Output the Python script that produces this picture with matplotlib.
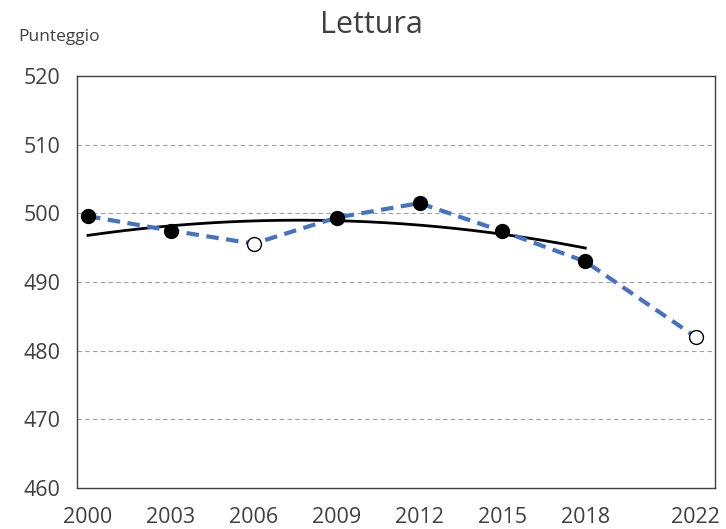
import numpy as np
import matplotlib.pyplot as plt

# dati PISA lettura
anni = [2000, 2003, 2006, 2009, 2012, 2015, 2018, 2022]
punteggi = [499.6, 497.5, 495.6, 499.4, 501.5, 497.4, 493.0, 482.0]
pieni = [True, True, False, True, True, True, True, False]

# linea di tendenza
anni_trend = [2000, 2003, 2006, 2009, 2012, 2015, 2018]
valori_trend = [496.9, 498.1, 498.8, 499.0, 498.4, 497.0, 494.9]

x_ticks = [2000, 2003, 2006, 2009, 2012, 2015, 2018, 2022]
y_ticks = [460, 470, 480, 490, 500, 510, 520]

plt.rcParams['font.family'] = ['Open Sans', 'DejaVu Sans']
grigio = '#404040'

fig = plt.figure(figsize=(7.26, 5.29), dpi=100)
ax = fig.add_axes([0.106, 0.0775, 0.879, 0.7785])

# griglia
for y in y_ticks[1:-1]:
    ax.axhline(y, color='#a0a0a0', lw=0.8, ls=(0, (4, 3)), zorder=0)

# tendenza quadratica
coef = np.polyfit(anni_trend, valori_trend, 2)
xs = np.linspace(anni_trend[0], anni_trend[-1], 200)
ax.plot(xs, np.polyval(coef, xs), color='black', lw=2, zorder=2)

# serie tratteggiata
ax.plot(anni, punteggi, color='#4472C4', lw=3, ls=(0, (3, 1.8)), zorder=3)
for a, p, f in zip(anni, punteggi, pieni):
    ax.plot(a, p, 'o', ms=10, mec='black', mew=1,
            mfc='black' if f else 'white', zorder=4)

ax.set_xlim(1999.6, 2022.7)
ax.set_ylim(460, 520)
ax.set_xticks(x_ticks)
ax.set_yticks(y_ticks)
ax.tick_params(length=0, labelsize=15.5, colors=grigio)
ax.tick_params(axis='x', pad=14)
ax.tick_params(axis='y', pad=12)
for s in ax.spines.values():
    s.set_color('#404040')
    s.set_linewidth(1)

fig.text(0.512, 0.952, 'Lettura', ha='center', va='center', fontsize=22, color=grigio)
fig.text(0.082, 0.93, 'Punteggio', ha='center', va='center', fontsize=12.5, color=grigio)

fig.savefig('out.png')
